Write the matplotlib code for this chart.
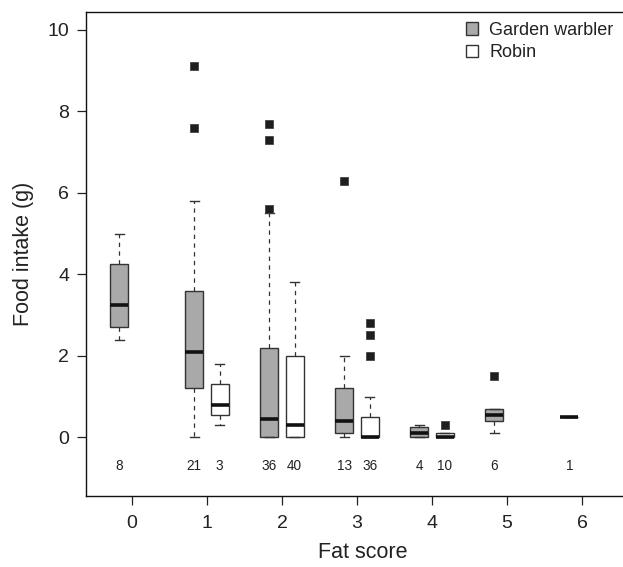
import matplotlib
matplotlib.use("Agg")
import matplotlib.pyplot as plt
from matplotlib.patches import Patch

plt.rcParams['font.family'] = ['Liberation Sans', 'DejaVu Sans']

# ---- data ----
fat_ticks = [0, 1, 2, 3, 4, 5, 6]

gw_scores = [0, 1, 2, 3, 4, 5, 6]
gw_n = [8, 21, 36, 13, 4, 6, 1]
gw_whislo = [2.4, 0.0, 0.0, 0.0, 0.0, 0.1, 0.5]
gw_q1 = [2.7, 1.2, 0.0, 0.1, 0.0, 0.4, 0.5]
gw_med = [3.25, 2.1, 0.45, 0.4, 0.1, 0.55, 0.5]
gw_q3 = [4.25, 3.6, 2.2, 1.2, 0.25, 0.7, 0.5]
gw_whishi = [5.0, 5.8, 5.5, 2.0, 0.3, 0.7, 0.5]
gw_fliers = [[], [7.6, 9.1], [5.6, 7.3, 7.7], [6.3], [], [1.5], []]

robin_scores = [1, 2, 3, 4]
robin_n = [3, 40, 36, 10]
robin_whislo = [0.3, 0.0, 0.0, 0.0]
robin_q1 = [0.55, 0.0, 0.0, 0.0]
robin_med = [0.8, 0.3, 0.0, 0.0]
robin_q3 = [1.3, 2.0, 0.5, 0.1]
robin_whishi = [1.8, 3.8, 1.0, 0.1]
robin_fliers = [[], [], [2.0, 2.5, 2.8], [0.3]]

species = ["Garden warbler", "Robin"]
offset = 0.17
box_width = 0.24
count_y = -0.70

fig = plt.figure(figsize=(6.23, 5.67), dpi=100)
ax = fig.add_axes([86 / 623, 71 / 567, 554 / 623, 483.7 / 567])


def stats(lo, q1, med, q3, hi, fl):
    return [dict(whislo=a, q1=b, med=c, q3=d, whishi=e, fliers=f)
            for a, b, c, d, e, f in zip(lo, q1, med, q3, hi, fl)]


def draw(st, pos, face):
    ax.bxp(st, positions=pos, widths=box_width, capwidths=box_width / 2,
           patch_artist=True, manage_ticks=False,
           boxprops=dict(facecolor=face, edgecolor='#333333', linewidth=1.0),
           medianprops=dict(color='#111111', linewidth=2.6, solid_capstyle='butt'),
           whiskerprops=dict(color='#333333', linewidth=0.9, linestyle=(0, (3.5, 3.5))),
           capprops=dict(color='#333333', linewidth=1.0),
           flierprops=dict(marker='s', markersize=5.2, markerfacecolor='#1e1e1e',
                           markeredgecolor='#444444', markeredgewidth=0.6))


gw_pos = [s - offset for s in gw_scores]
rb_pos = [s + offset for s in robin_scores]
draw(stats(gw_whislo, gw_q1, gw_med, gw_q3, gw_whishi, gw_fliers), gw_pos, '#a9a9a9')
draw(stats(robin_whislo, robin_q1, robin_med, robin_q3, robin_whishi, robin_fliers), rb_pos, 'white')

for p, n in zip(gw_pos, gw_n):
    ax.text(p, count_y, str(n), ha='center', va='center', fontsize=9.8, color='#222222')
for p, n in zip(rb_pos, robin_n):
    ax.text(p, count_y, str(n), ha='center', va='center', fontsize=9.8, color='#222222')

ax.set_xlim(-0.613, 6.773)
ax.set_ylim(-1.44, 10.43)
ax.set_xticks(fat_ticks)
ax.set_xticklabels([str(t) for t in fat_ticks])
ax.set_yticks([0, 2, 4, 6, 8, 10])
ax.tick_params(axis='both', direction='out', length=6.5, width=0.9, labelsize=14,
               colors='#222222', pad=5.5)
ax.tick_params(axis='x', pad=7.5)
for sp in ax.spines.values():
    sp.set_linewidth(1.0)
    sp.set_color('#111111')

ax.set_xlabel("Fat score", fontsize=15.5, color='#222222', labelpad=7)
ax.set_ylabel("Food intake (g)", fontsize=15.5, color='#222222', labelpad=10)

handles = [Patch(facecolor='#a9a9a9', edgecolor='#333333', linewidth=1.0),
           Patch(facecolor='white', edgecolor='#333333', linewidth=1.0)]
fig.legend(handles, species, loc='upper left', bbox_to_anchor=(466 / 623, 1 - 22 / 567),
           frameon=False, fontsize=13, handlelength=0.68, handleheight=0.68,
           handletextpad=0.6, labelspacing=0.3, borderpad=0, borderaxespad=0,
           labelcolor='#222222')

fig.savefig("out.png", dpi=100)
